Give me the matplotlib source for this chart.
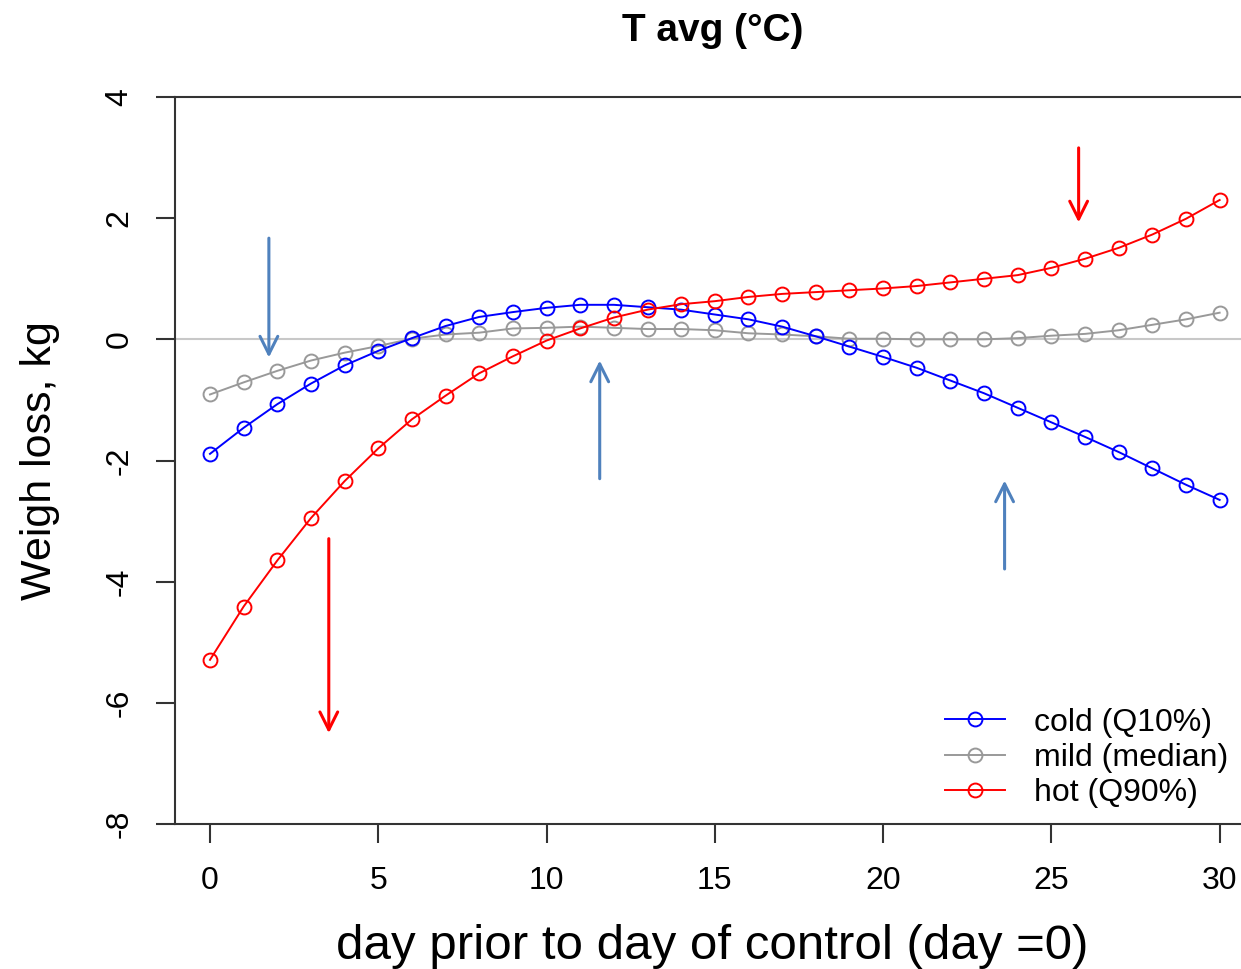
import matplotlib
matplotlib.use("Agg")
import matplotlib.pyplot as plt
import numpy as np

plt.rcParams["font.family"] = ["Liberation Sans", "DejaVu Sans"]
plt.rcParams["axes.unicode_minus"] = False

# day prior to control
days = np.arange(0, 31)

cold = [-1.89, -1.46, -1.07, -0.73, -0.43, -0.19, 0.02, 0.22, 0.37, 0.45, 0.52,
        0.57, 0.57, 0.53, 0.49, 0.41, 0.33, 0.21, 0.05, -0.12, -0.29,
        -0.47, -0.68, -0.89, -1.13, -1.37, -1.61, -1.86, -2.13, -2.40, -2.65]
mild = [-0.91, -0.71, -0.52, -0.35, -0.22, -0.11, 0.01, 0.08, 0.11, 0.18, 0.19,
        0.21, 0.19, 0.17, 0.17, 0.15, 0.10, 0.08, 0.05, 0.01, 0.01,
        0.00, 0.00, 0.00, 0.02, 0.06, 0.09, 0.15, 0.24, 0.33, 0.44]
hot = [-5.29, -4.41, -3.65, -2.95, -2.34, -1.80, -1.32, -0.93, -0.56, -0.28, -0.02,
       0.18, 0.36, 0.49, 0.58, 0.63, 0.70, 0.75, 0.78, 0.81, 0.84,
       0.88, 0.94, 1.00, 1.06, 1.18, 1.33, 1.51, 1.73, 1.99, 2.30]

series_labels = ["cold (Q10%)", "mild (median)", "hot (Q90%)"]
x_ticks = [0, 5, 10, 15, 20, 25, 30]
y_ticks = [-8, -6, -4, -2, 0, 2, 4]

# hand-drawn arrows: (x, y_tail, y_head, colour)
arrows = [
    (1.75, 1.67, -0.30, "#4f81bd"),
    (11.58, -2.30, -0.35, "#4f81bd"),
    (23.61, -3.79, -2.33, "#4f81bd"),
    (3.53, -3.29, -6.50, "#ff0000"),
    (25.81, 3.16, 1.93, "#ff0000"),
]

fig = plt.figure(figsize=(12.41, 9.69), dpi=100)
ax = fig.add_axes([0.141, 0.1496, 0.870, 0.7503])

ax.axhline(0, color="#c8c8c8", lw=1.5, zorder=1)

line_kw = dict(marker="o", markersize=10, markerfacecolor="none",
               lw=1.4, markeredgewidth=1.4)
l_mild, = ax.plot(days, mild, color="#999999", label=series_labels[1], zorder=2, **line_kw)
l_cold, = ax.plot(days, cold, color="#0000ff", label=series_labels[0], zorder=3, **line_kw)
l_hot, = ax.plot(days, hot, color="#ff0000", label=series_labels[2], zorder=4, **line_kw)

for x, y0, y1, c in arrows:
    ax.annotate("", xy=(x, y1), xytext=(x, y0),
                arrowprops=dict(arrowstyle="->", color=c, lw=2.2,
                                mutation_scale=32, shrinkA=0, shrinkB=0))

ax.set_xlim(-1.04, 31.04)
ax.set_ylim(-8, 4)
ax.set_xticks(x_ticks)
ax.set_xticklabels([str(t) for t in x_ticks])
ax.set_yticks(y_ticks)
ax.set_yticklabels([str(t) for t in y_ticks], rotation=90, va="center")

for s in ax.spines.values():
    s.set_color("#333333")
    s.set_linewidth(1.5)
ax.tick_params(axis="both", direction="out", length=14, width=1.5,
               color="#333333", labelsize=23)
ax.tick_params(axis="x", pad=16)
ax.tick_params(axis="y", pad=15)

ax.set_title("T avg (°C)", fontsize=28, fontweight="bold", pad=40, x=0.498)
ax.set_xlabel("day prior to day of control (day =0)", fontsize=35.5)
ax.set_ylabel("Weigh loss, kg", fontsize=31, labelpad=32)
ax.xaxis.set_label_coords(0.498, -0.138)

ax.legend(handles=[l_cold, l_mild, l_hot], loc="upper left",
          bbox_to_anchor=(0.751, 0.283), bbox_transform=fig.transFigure,
          frameon=False, fontsize=23,
          handlelength=1.9, handletextpad=0.9, labelspacing=0.17,
          numpoints=1, borderaxespad=0)

fig.savefig("out.png", dpi=100)
